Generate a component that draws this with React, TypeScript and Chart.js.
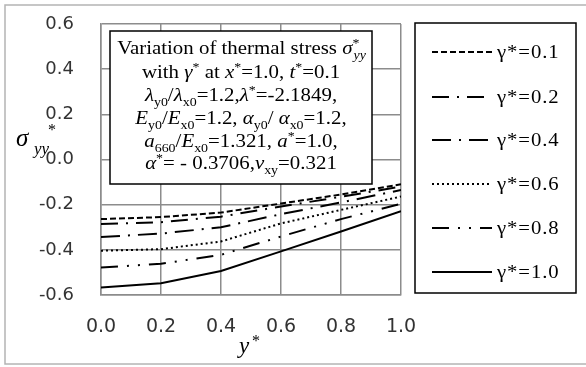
import React, { useEffect, useRef } from "react";
import { Chart, registerables } from "chart.js";

Chart.register(...registerables);

const xValues = [0.0, 0.2, 0.4, 0.6, 0.8, 1.0];
const seriesLabels = ["γ*=0.1", "γ*=0.2", "γ*=0.4", "γ*=0.6", "γ*=0.8", "γ*=1.0"];
const gamma01 = [-0.264, -0.255, -0.235, -0.195, -0.155, -0.11];
const gamma02 = [-0.286, -0.278, -0.253, -0.208, -0.165, -0.12];
const gamma04 = [-0.343, -0.328, -0.300, -0.242, -0.19, -0.135];
const gamma06 = [-0.404, -0.397, -0.363, -0.283, -0.223, -0.164];
const gamma08 = [-0.478, -0.462, -0.422, -0.341, -0.264, -0.196];
const gamma10 = [-0.567, -0.548, -0.494, -0.407, -0.319, -0.229];
const seriesValues = [gamma01, gamma02, gamma04, gamma06, gamma08, gamma10];
const seriesDashes: number[][] = [
  [6, 3],
  [17, 8, 2, 8],
  [19, 8, 2, 8],
  [2, 3],
  [17, 9, 2, 9, 2, 9],
  [],
];
const yTicksMin = -0.6;
const yTicksMax = 0.6;

type Seg = { t: string; it?: boolean; pos?: "sub" | "sup"; stack?: boolean };

const boxLines: Seg[][] = [
  [{ t: "Variation of thermal stress " }, { t: "σ", it: true }, { t: "*", pos: "sup" }, { t: "yy", it: true, pos: "sub", stack: true }],
  [{ t: "with " }, { t: "γ", it: true }, { t: "*", pos: "sup" }, { t: " at " }, { t: "x", it: true }, { t: "*", pos: "sup" }, { t: "=1.0, " }, { t: "t", it: true }, { t: "*", pos: "sup" }, { t: "=0.1" }],
  [{ t: "λ", it: true }, { t: "y0", pos: "sub" }, { t: "/" }, { t: "λ", it: true }, { t: "x0", pos: "sub" }, { t: "=1.2," }, { t: "λ", it: true }, { t: "*", pos: "sup" }, { t: "=-2.1849," }],
  [{ t: "E", it: true }, { t: "y0", pos: "sub" }, { t: "/" }, { t: "E", it: true }, { t: "x0", pos: "sub" }, { t: "=1.2, " }, { t: "α", it: true }, { t: "y0", pos: "sub" }, { t: "/ " }, { t: "α", it: true }, { t: "x0", pos: "sub" }, { t: "=1.2," }],
  [{ t: "a", it: true }, { t: "660", pos: "sub" }, { t: "/" }, { t: "E", it: true }, { t: "x0", pos: "sub" }, { t: "=1.321, " }, { t: "a", it: true }, { t: "*", pos: "sup" }, { t: "=1.0," }],
  [{ t: "α", it: true }, { t: "*", pos: "sup" }, { t: "= - 0.3706," }, { t: "ν", it: true }, { t: "xy", pos: "sub" }, { t: "=0.321" }],
];

const SERIF = '"Liberation Serif", "Times New Roman", serif';

function drawRich(ctx: CanvasRenderingContext2D, segs: Seg[], x: number, y: number, size: number, stretch: number) {
  const fontFor = (s: Seg) => `${s.it ? "italic " : ""}${s.pos ? Math.round(size * 0.68) : size}px ${SERIF}`;
  let cx = 0;
  let prevStart = 0;
  let prevW = 0;
  const items: { s: Seg; sx: number }[] = [];
  for (const s of segs) {
    ctx.font = fontFor(s);
    const w = ctx.measureText(s.t).width;
    if (s.stack) {
      items.push({ s, sx: prevStart + size * 0.05 });
      cx = Math.max(prevStart + prevW, prevStart + w);
      prevW = Math.max(prevW, w);
    } else {
      items.push({ s, sx: cx });
      prevStart = cx;
      prevW = w;
      cx += w;
    }
  }
  ctx.save();
  ctx.translate(x, 0);
  ctx.scale(stretch, 1);
  const ox = -cx / 2;
  ctx.textAlign = "left";
  ctx.textBaseline = "alphabetic";
  for (const { s, sx } of items) {
    ctx.font = fontFor(s);
    const dy = s.pos === "sub" ? size * 0.3 : s.pos === "sup" ? -size * 0.4 : 0;
    ctx.fillText(s.t, ox + sx, y + dy);
  }
  ctx.restore();
}

const decorPlugin = {
  id: "decor",
  beforeDraw(chart: any) {
    const ctx = chart.ctx as CanvasRenderingContext2D;
    ctx.save();
    ctx.fillStyle = "#ffffff";
    ctx.fillRect(0, 0, chart.width, chart.height);
    ctx.strokeStyle = "#b4b4b4";
    ctx.lineWidth = 1.5;
    ctx.strokeRect(5, 5, chart.width + 10, 359);
    ctx.restore();
  },
  afterDraw(chart: any) {
    const ctx = chart.ctx as CanvasRenderingContext2D;
    ctx.save();
    // annotation box
    ctx.fillStyle = "#ffffff";
    ctx.fillRect(110, 31, 262, 153);
    ctx.strokeStyle = "#000000";
    ctx.lineWidth = 1.5;
    ctx.strokeRect(110, 31, 262, 153);
    ctx.fillStyle = "#000000";
    const baselines = [54, 78, 101, 124, 147, 169];
    boxLines.forEach((ln, i) => drawRich(ctx, ln, 241, baselines[i], 18, 1.16));

    // y-axis title
    ctx.font = `italic 25px ${SERIF}`;
    ctx.textAlign = "left";
    ctx.textBaseline = "alphabetic";
    ctx.fillText("σ", 16, 146);
    ctx.font = `italic 17px ${SERIF}`;
    ctx.fillText("yy", 34, 154);
    ctx.font = `16px ${SERIF}`;
    ctx.fillText("*", 48, 135);

    // x-axis title
    ctx.font = `italic 23px ${SERIF}`;
    ctx.fillText("y", 239, 353);
    ctx.font = `16px ${SERIF}`;
    ctx.fillText("*", 252, 346);

    // legend
    ctx.strokeStyle = "#000000";
    ctx.lineWidth = 1.5;
    ctx.strokeRect(415, 23, 161, 270);
    const rows = [52, 97, 140, 184, 228, 272];
    chart.data.datasets.forEach((ds: any, i: number) => {
      const yy = rows[i];
      ctx.beginPath();
      ctx.setLineDash(ds.borderDash || []);
      ctx.lineWidth = 2;
      ctx.strokeStyle = "#000000";
      ctx.moveTo(432, yy);
      ctx.lineTo(492, yy);
      ctx.stroke();
      ctx.setLineDash([]);
      ctx.save();
      ctx.translate(497, 0);
      ctx.scale(1.15, 1);
      ctx.fillStyle = "#000000";
      ctx.font = `18px ${SERIF}`;
      (ctx as any).letterSpacing = "0.8px";
      ctx.textAlign = "left";
      ctx.textBaseline = "middle";
      ctx.fillText(ds.label, 0, yy + 1);
      ctx.restore();
    });
    ctx.restore();
  },
};

export default function App() {
  const ref = useRef<HTMLCanvasElement | null>(null);
  useEffect(() => {
    document.body.style.margin = "0";
    const canvas = ref.current;
    if (!canvas) return;
    const chart = new Chart(canvas, {
      type: "line",
      data: {
        datasets: seriesValues.map((vals, i) => ({
          label: seriesLabels[i],
          data: xValues.map((x, j) => ({ x, y: vals[j] })),
          borderColor: "#000000",
          backgroundColor: "#000000",
          borderWidth: 2,
          borderDash: seriesDashes[i],
          pointRadius: 0,
          tension: 0,
          fill: false,
        })),
      },
      options: {
        responsive: false,
        animation: false,
        layout: { padding: { left: 0, right: 185, top: 24, bottom: 0 } },
        plugins: { legend: { display: false }, tooltip: { enabled: false }, title: { display: false } },
        scales: {
          x: {
            type: "linear",
            min: 0,
            max: 1,
            afterFit: (s: any) => {
              s.height = 72;
              s.paddingLeft = 0;
              s.paddingRight = 0;
            },
            ticks: {
              stepSize: 0.2,
              padding: 21,
              color: "#333333",
              font: { family: '"DejaVu Sans", sans-serif', size: 19 },
              callback: (v: any) => Number(v).toFixed(1),
            },
            grid: { color: "#8c8c8c", lineWidth: 1.5, drawTicks: false },
            border: { color: "#8c8c8c", width: 1.5 },
          },
          y: {
            type: "linear",
            min: yTicksMin,
            max: yTicksMax,
            afterFit: (s: any) => {
              s.width = 101;
              s.paddingTop = 0;
              s.paddingBottom = 0;
            },
            ticks: {
              stepSize: 0.2,
              padding: 27,
              color: "#333333",
              font: { family: '"DejaVu Sans", sans-serif', size: 18 },
              callback: (v: any) => Number(v).toFixed(1),
            },
            grid: { color: "#8c8c8c", lineWidth: 1.5, drawTicks: false },
            border: { color: "#8c8c8c", width: 1.5 },
          },
        },
      },
      plugins: [decorPlugin],
    });
    return () => chart.destroy();
  }, []);
  return <canvas ref={ref} width={586} height={367} style={{ display: "block" }} />;
}
